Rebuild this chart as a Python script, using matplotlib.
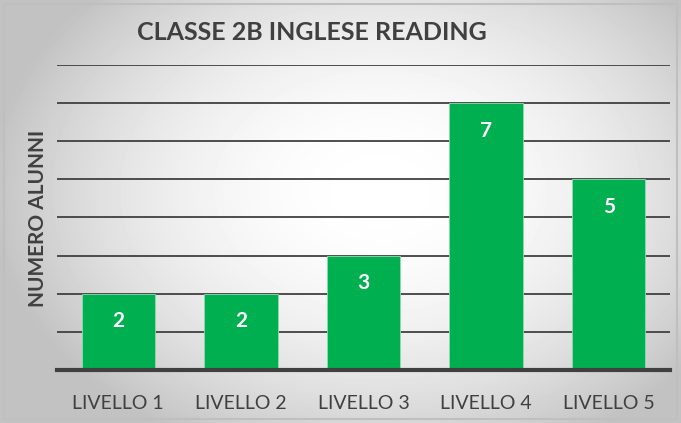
import numpy as np
import matplotlib.pyplot as plt
from matplotlib.patches import Rectangle

categories = ["LIVELLO 1", "LIVELLO 2", "LIVELLO 3", "LIVELLO 4", "LIVELLO 5"]
values = [2, 2, 3, 7, 5]
title = "CLASSE 2B INGLESE READING"
ylabel = "NUMERO ALUNNI"

plt.rcParams['font.family'] = ['Lato', 'DejaVu Sans']

fig = plt.figure(figsize=(6.81, 4.23), dpi=100)

# radial gradient background
bg = fig.add_axes([0, 0, 1, 1], zorder=0)
yy, xx = np.mgrid[0:423, 0:681]
r = np.sqrt(((xx - 380) / 400.0) ** 2 + ((yy - 190) / 290.0) ** 2)
shade = np.clip(1.0 - 0.25 * r ** 2.0, 0.76, 1.0)
bg.imshow(shade, cmap='gray', vmin=0, vmax=1, aspect='auto',
          extent=[0, 681, 423, 0])
bg.add_patch(Rectangle((4, 4), 673, 415, fill=False, edgecolor='#bfbfbf', lw=1.5))
bg.set_xlim(0, 681)
bg.set_ylim(423, 0)
bg.axis('off')

ax = fig.add_axes([57 / 681, 1 - 370 / 423, 613 / 681, 305 / 423], zorder=1)
ax.patch.set_alpha(0)
x = np.arange(len(categories))
ax.set_axisbelow(True)
ax.yaxis.grid(True, color='#404040', lw=1.3)
bars = ax.bar(x, values, width=0.6, color='#00B050', edgecolor='#8fdcb0', lw=0.6, zorder=2)
for xi, v in zip(x, values):
    ax.text(xi, v - 0.72, str(v), ha='center', va='center', color='white',
            fontsize=15, fontweight='bold', zorder=3)

ax.set_xlim(-0.5, len(categories) - 0.5)
ax.set_ylim(0, 8)
ax.set_yticks(range(0, 9))
ax.tick_params(axis='y', length=0, labelleft=False)
ax.tick_params(axis='x', length=0, pad=18, labelsize=14, labelcolor='#404040')
ax.set_xticks(x)
ax.set_xticklabels(categories)
for s in ['top', 'right', 'left']:
    ax.spines[s].set_visible(False)
ax.spines['bottom'].set_color('#404040')
ax.spines['bottom'].set_linewidth(3)
ax.spines['bottom'].set_zorder(4)

fig.text(312 / 681, 1 - 32 / 423, title, ha='center', va='center',
         fontsize=18, fontweight='bold', color='#404040')
fig.text(38 / 681, 1 - 218 / 423, ylabel, ha='center', va='center', rotation=90,
         fontsize=15, fontweight='bold', color='#404040')

fig.savefig('out.png', dpi=100)
